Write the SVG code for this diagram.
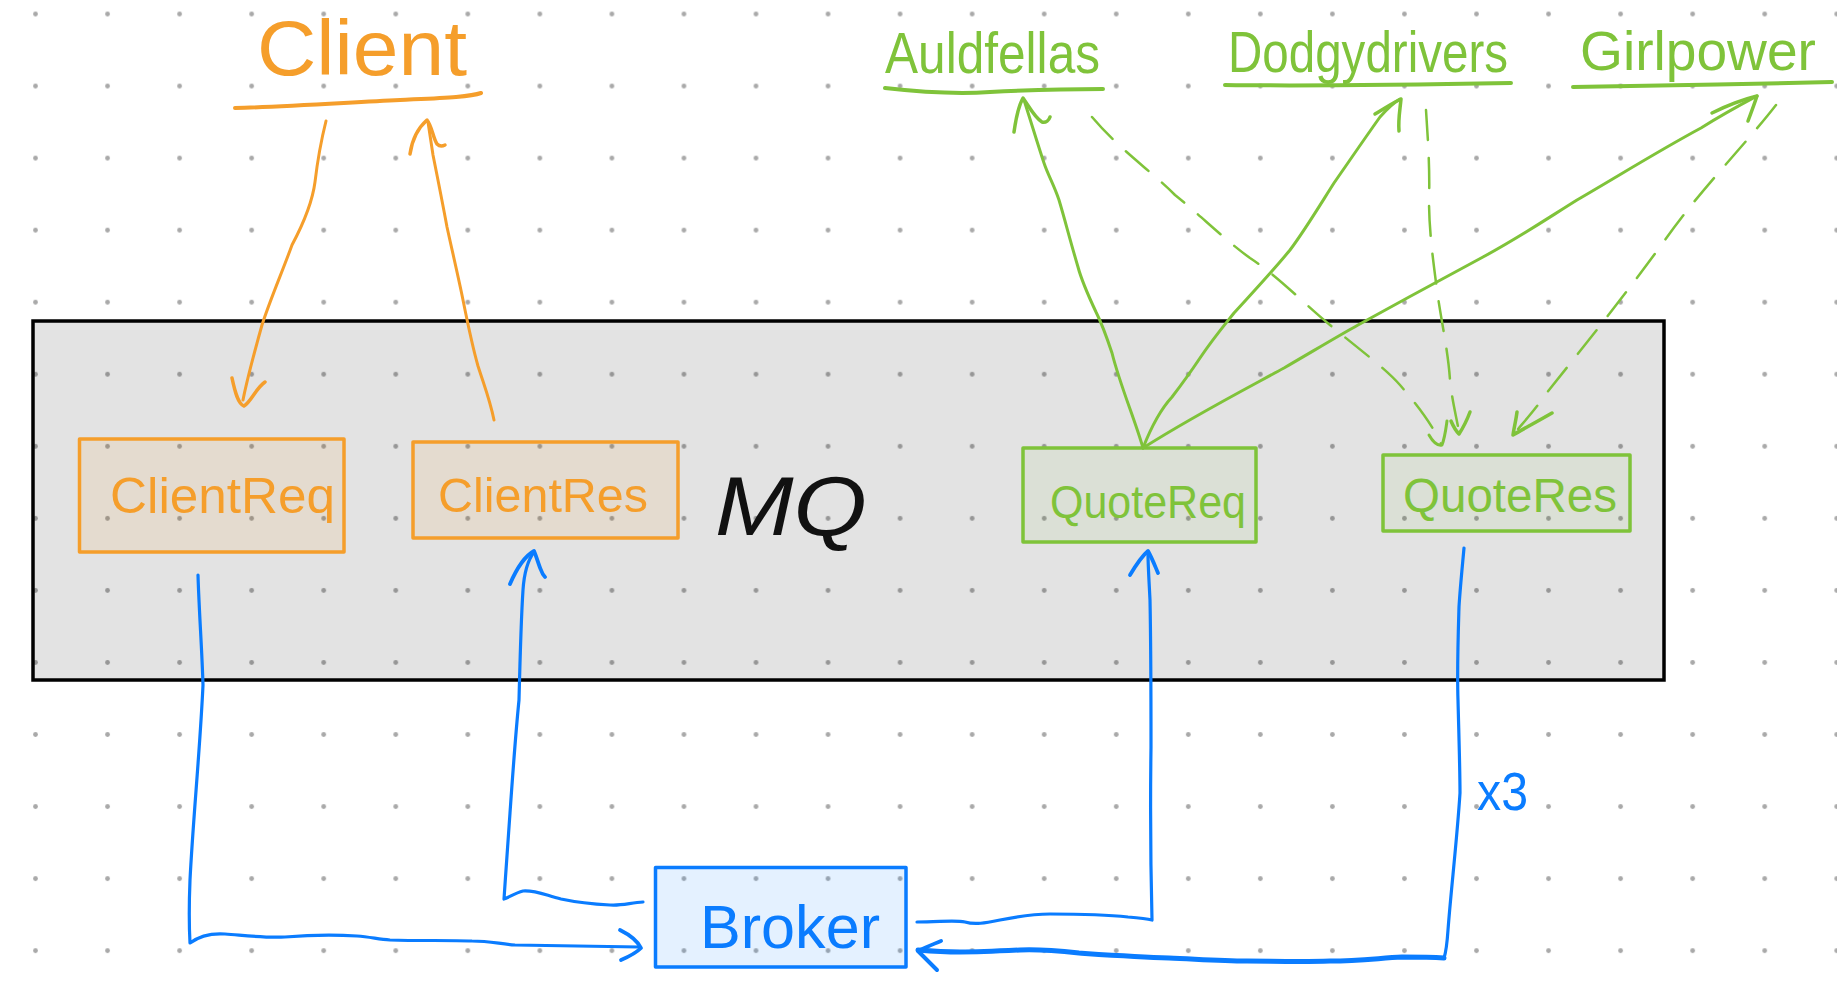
<svg xmlns="http://www.w3.org/2000/svg" width="1837" height="1000" viewBox="0 0 1837 1000">
  <defs>
    <pattern id="dots" x="-0.5" y="-22" width="72.05" height="72.05" patternUnits="userSpaceOnUse">
      <circle cx="36" cy="36" r="2.4" fill="#a9a9a9"/>
    </pattern>
    <style>
      .txt { font-family: "Liberation Sans", Arial, sans-serif; }
      .or { fill: #f59e2b; }
      .gr { fill: #7fc33a; }
      .bl { fill: #0a7cff; }
      .ln { fill: none; stroke-linecap: round; stroke-linejoin: round; }
      .orS { stroke: #f59e2b; }
      .grS { stroke: #7fc33a; }
      .blS { stroke: #0a7cff; }
      .dash { stroke-dasharray: 30 18; }
      .box { stroke-width: 3.5; stroke-linejoin: round; }
    </style>
  </defs>

  <rect x="0" y="0" width="1837" height="1000" fill="#ffffff"/>
  <rect x="0" y="0" width="1837" height="1000" fill="url(#dots)"/>

  <!-- MQ container -->
  <g id="mq">
    <rect x="33" y="321" width="1631" height="359" fill="#000" fill-opacity="0.11" stroke="#000" stroke-width="3.5"/>
    <text class="txt" x="715" y="535" font-size="84" font-style="italic" textLength="152" lengthAdjust="spacingAndGlyphs" fill="#111">MQ</text>
  </g>

  <!-- Client title -->
  <g id="client">
    <text class="txt or" x="257" y="75" font-size="78" textLength="210" lengthAdjust="spacingAndGlyphs">Client</text>
    <path class="ln orS" stroke-width="4" d="M235,108 C280,107 340,103 400,100 C440,98 470,97 481,93"/>
  </g>

  <!-- Providers -->
  <g id="auldfellas">
    <text class="txt gr" x="885" y="73" font-size="58" textLength="215" lengthAdjust="spacingAndGlyphs">Auldfellas</text>
    <path class="ln grS" stroke-width="4" d="M885,88 C920,92 960,94 990,92 C1030,90 1070,89 1103,89"/>
  </g>
  <g id="dodgydrivers">
    <text class="txt gr" x="1228" y="72" font-size="58" textLength="280" lengthAdjust="spacingAndGlyphs">Dodgydrivers</text>
    <path class="ln grS" stroke-width="4" d="M1225,85 C1300,86 1400,85 1511,83"/>
  </g>
  <g id="girlpower">
    <text class="txt gr" x="1580" y="70" font-size="55" textLength="236" lengthAdjust="spacingAndGlyphs">Girlpower</text>
    <path class="ln grS" stroke-width="4" d="M1573,87 C1650,86 1750,84 1832,82"/>
  </g>

  <!-- Queues -->
  <g id="clientreq">
    <rect class="box" x="79.5" y="439" width="264.5" height="113" fill="#f59e2b" fill-opacity="0.1" stroke="#f59e2b"/>
    <text class="txt or" x="110" y="513" font-size="50" textLength="225" lengthAdjust="spacingAndGlyphs">ClientReq</text>
  </g>
  <g id="clientres">
    <rect class="box" x="413" y="442" width="265" height="96" fill="#f59e2b" fill-opacity="0.1" stroke="#f59e2b"/>
    <text class="txt or" x="438" y="512" font-size="49" textLength="210" lengthAdjust="spacingAndGlyphs">ClientRes</text>
  </g>
  <g id="quotereq">
    <rect class="box" x="1023" y="448" width="233" height="94" fill="#7fc33a" fill-opacity="0.08" stroke="#7fc33a"/>
    <text class="txt gr" x="1050" y="518" font-size="47" textLength="196" lengthAdjust="spacingAndGlyphs">QuoteReq</text>
  </g>
  <g id="quoteres">
    <rect class="box" x="1383" y="455" width="247" height="76" fill="#7fc33a" fill-opacity="0.08" stroke="#7fc33a"/>
    <text class="txt gr" x="1403" y="512" font-size="48" textLength="214" lengthAdjust="spacingAndGlyphs">QuoteRes</text>
  </g>

  <!-- Broker -->
  <g id="broker">
    <rect class="box" x="655.5" y="867.5" width="250.5" height="99.5" fill="#0a7cff" fill-opacity="0.11" stroke="#0a7cff"/>
    <text class="txt bl" x="700" y="948" font-size="62" textLength="180" lengthAdjust="spacingAndGlyphs">Broker</text>
  </g>

  <!-- Connectors -->
  <g id="connectors">
    <!-- Client -> ClientReq -->
    <path class="ln orS" stroke-width="3" d="M326,121 C320,145 317,165 315,182 C312,205 300,230 292,245 C283,270 270,300 262,325 C255,350 248,375 243,400"/>
    <path class="ln orS" stroke-width="3.5" d="M232,378 C235,392 238,404 244,406 C251,402 256,388 265,382"/>
    <!-- ClientRes -> Client -->
    <path class="ln orS" stroke-width="3" d="M494,420 C490,400 484,385 478,366 C472,345 467,320 463,300 C459,280 452,250 447,227 C442,200 437,175 433,155 L428,122"/>
    <path class="ln orS" stroke-width="3.5" d="M410,154 C412,140 418,128 427,120 C432,126 433,138 437,144 C440,147 443,146 445,145"/>

    <!-- QuoteReq -> providers -->
    <path class="ln grS" stroke-width="3" d="M1143,448 C1135,420 1120,385 1112,353 C1106,335 1100,320 1096,312 C1088,295 1082,282 1078,267 C1070,240 1065,220 1059,200 C1054,185 1048,175 1044,163 C1038,145 1032,125 1024,100"/>
    <path class="ln grS" stroke-width="3.5" d="M1014,132 C1016,118 1019,105 1023,98 C1028,105 1035,118 1042,122 C1046,123 1049,120 1050,117"/>
    <path class="ln grS" stroke-width="3" d="M1143,448 C1152,425 1160,410 1172,397 C1185,380 1192,370 1200,358 C1212,340 1222,328 1234,313 C1255,290 1272,272 1290,250 C1305,230 1320,205 1334,183 C1350,160 1365,138 1380,117 C1388,108 1395,102 1400,99"/>
    <path class="ln grS" stroke-width="3.5" d="M1375,114 C1385,108 1394,102 1401,99 C1400,110 1398,120 1399,131"/>
    <path class="ln grS" stroke-width="3" d="M1143,448 C1190,418 1240,392 1284,368 C1320,347 1340,335 1358,325 C1400,302 1440,280 1483,257 C1520,237 1545,220 1577,200 C1620,175 1660,150 1701,128 C1725,113 1742,104 1757,96"/>
    <path class="ln grS" stroke-width="3.5" d="M1712,113 C1728,105 1745,99 1757,96 C1754,105 1751,113 1748,121"/>

    <!-- providers -> QuoteRes (dashed) -->
    <path class="ln grS dash" stroke-width="2.5" d="M1092,117 C1120,150 1150,170 1175,195 C1200,215 1225,240 1250,258 C1280,278 1300,300 1330,325 C1360,350 1385,368 1400,385 C1420,408 1434,428 1441,444"/>
    <path class="ln grS" stroke-width="3" d="M1429,435 C1433,442 1438,446 1442,445 C1445,437 1446,428 1447,421"/>
    <path class="ln grS dash" stroke-width="2.5" d="M1426,110 C1428,140 1430,170 1429,200 C1429,230 1433,260 1437,290 C1441,320 1448,350 1450,380 C1452,400 1456,415 1459,432"/>
    <path class="ln grS" stroke-width="3.5" d="M1451,421 C1454,428 1457,432 1459,434 C1463,428 1467,420 1470,412"/>
    <path class="ln grS dash" stroke-width="2.5" d="M1776,105 C1745,145 1700,190 1665,240 C1625,295 1585,345 1545,395 C1535,410 1522,424 1514,434"/>
    <path class="ln grS" stroke-width="3.5" d="M1517,412 C1516,420 1514,428 1513,435 C1525,428 1540,420 1552,413"/>

    <!-- ClientReq -> Broker -->
    <path class="ln blS" stroke-width="3.2" d="M198,575 C199,610 202,650 203,685 C200,750 193,820 190,880 C189,905 189,925 190,943 C198,937 210,933 225,934 C250,936 265,938 285,937 C310,935 340,935 357,936 C370,937 378,939 390,940 C420,941 450,940 472,941 C490,941 500,944 515,945 C560,946 600,946 639,947"/>
    <path class="ln blS" stroke-width="3.8" d="M620,930 C630,935 638,942 641,948 C636,953 628,957 621,960"/>
    <!-- Broker -> ClientRes -->
    <path class="ln blS" stroke-width="3.2" d="M643,902 C630,903 620,906 610,905 C590,904 575,902 561,899 C545,895 535,890 523,891 C515,893 508,898 504,899 C506,870 508,840 510,813 C513,770 516,730 519,700 C520,660 521,620 523,590 C524,575 528,560 534,552"/>
    <path class="ln blS" stroke-width="3.8" d="M510,584 C516,570 525,556 534,551 C537,558 539,566 541,570 C542,573 543,575 545,577"/>
    <!-- Broker -> QuoteReq -->
    <path class="ln blS" stroke-width="3.2" d="M917,922 C940,922 955,920 965,922 C975,925 985,923 1000,920 C1020,916 1035,914 1050,914 C1080,914 1110,915 1128,917 C1140,918 1148,919 1152,920 C1151,880 1150,820 1151,747 C1151,700 1151,650 1150,600 C1149,580 1148,565 1148,553"/>
    <path class="ln blS" stroke-width="3.8" d="M1130,575 C1136,565 1142,556 1148,551 C1152,558 1155,566 1158,573"/>
    <!-- QuoteRes -> Broker (x3) -->
    <path class="ln blS" stroke-width="3.2" d="M1464,548 C1462,570 1460,590 1459,607 C1458,640 1457,670 1458,700 C1459,740 1460,770 1460,793 C1457,840 1451,890 1448,930 C1447,945 1446,952 1444,958"/>
    <path class="ln blS" stroke-width="5" d="M1444,958 C1430,957 1415,957 1402,957 C1380,958 1360,961 1330,961 C1300,962 1270,961 1247,961 C1220,961 1195,959 1169,958 C1140,957 1110,955 1079,953 C1060,951 1040,949 1020,950 C1000,951 980,952 960,952 C945,952 930,951 918,950"/>
    <path class="ln blS" stroke-width="4" d="M941,941 C933,944 925,948 918,951 C924,957 931,964 937,970"/>
    <text class="txt bl" x="1477" y="810" font-size="54" textLength="51" lengthAdjust="spacingAndGlyphs">x3</text>
  </g>
</svg>
